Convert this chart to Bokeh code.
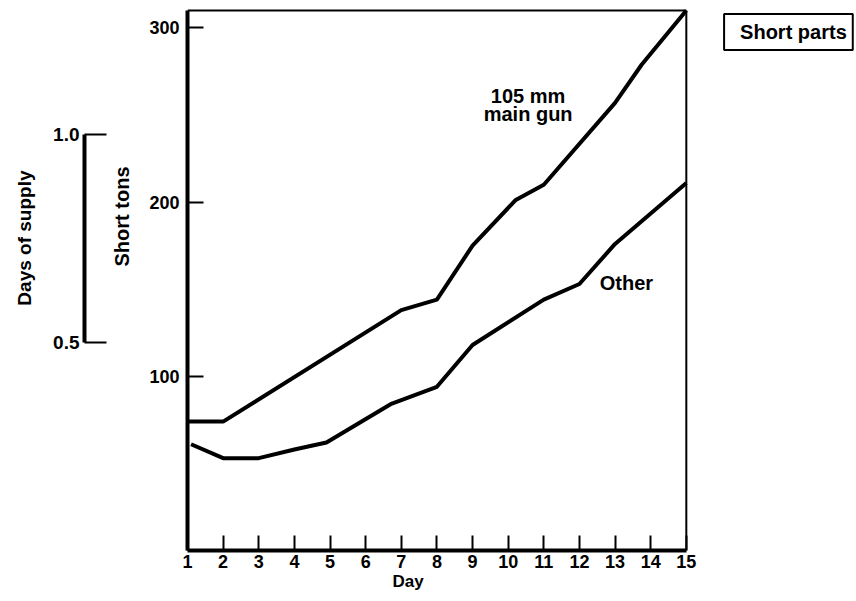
from bokeh.plotting import figure
from bokeh.models import (Range1d, LinearAxis, FixedTicker, Label, Title,
                          NumeralTickFormatter, CustomJSTickFormatter)
from bokeh.embed import file_html
from bokeh.resources import INLINE

# ---- data ----
gun_day = [1, 2, 7, 8, 9, 10.2, 11, 13, 13.75, 15]
gun_tons = [74, 74, 138, 144, 175, 201, 210, 257, 279, 310]

other_day = [1.1, 2, 3, 4, 4.9, 6.7, 8, 9, 11, 12, 13, 15]
other_tons = [61, 53, 53, 58, 62, 84, 94, 118, 144, 153, 176, 211]

day_ticks = list(range(1, 16))
ton_ticks = [100, 200, 300]
supply_ticks = [0.5, 1.0]
ton_max = 310          # top edge of the chart box

FONT = "Liberation Sans"
W, H = 854, 599
PX_DAY = 35.79          # pixels per day
PX_TON = 1.742          # pixels per short ton
PX_SUPPLY = 416.0       # pixels per day of supply

# frame spans from day 1 to the right edge of the canvas so that the note box
# in the right margin can live inside it
x_end = day_ticks[0] + (W - 184) / PX_DAY
y_end = ton_max + 4 / PX_TON

p = figure(width=W, height=H, output_backend="svg", toolbar_location=None,
           x_range=Range1d(day_ticks[0], x_end), y_range=Range1d(0, y_end),
           min_border_left=184, min_border_right=0,
           min_border_top=6, min_border_bottom=H - 550)
p.extra_y_ranges = {"days": Range1d(0, (550 - 6) / PX_SUPPLY)}

p.grid.visible = False
p.background_fill_color = "white"
p.border_fill_color = "white"
p.outline_line_color = None


def style_labels(ax, size):
    ax.major_label_text_font = FONT
    ax.major_label_text_font_style = "bold"
    ax.major_label_text_font_size = size
    ax.major_label_text_color = "black"


def title(text, size, **kw):
    return Title(text=text, text_font=FONT, text_font_style="bold",
                 text_font_size=size, text_color="black", **kw)


# bottom axis (Day)
xa = p.xaxis[0]
xa.ticker = FixedTicker(ticks=day_ticks)
xa.bounds = (day_ticks[0], day_ticks[-1])
xa.axis_line_width = 4
xa.major_tick_in = 15
xa.major_tick_out = 0
xa.major_tick_line_width = 2
xa.minor_tick_line_color = None
xa.major_label_standoff = 4
style_labels(xa, "18px")
p.add_layout(title("Day", "17px", align="left", offset=205,
                   vertical_align="top", standoff=2), "below")

# main left axis (Short tons)
ya = p.yaxis[0]
ya.ticker = FixedTicker(ticks=ton_ticks)
ya.bounds = (0, ton_max)
ya.axis_line_width = 4
ya.major_tick_in = 16
ya.major_tick_out = 0
ya.major_tick_line_width = 2
ya.minor_tick_line_color = None
ya.major_label_standoff = 8
style_labels(ya, "18px")

p.add_layout(title("Short tons", "20px", align="right", offset=160,
                   vertical_align="bottom", standoff=28), "left")

# spacer between the two left scales (one white tick at the bottom corner)
spacer = LinearAxis(ticker=FixedTicker(ticks=[0]), axis_line_color=None,
                    major_tick_line_color="white", minor_tick_out=0, minor_tick_in=0,
                    major_tick_out=10, major_tick_in=0, major_label_standoff=0,
                    formatter=CustomJSTickFormatter(code="return ''"))
p.add_layout(spacer, "left")

# Days of supply scale
da = LinearAxis(y_range_name="days", ticker=FixedTicker(ticks=supply_ticks),
                bounds=(supply_ticks[0], supply_ticks[-1]),
                formatter=NumeralTickFormatter(format="0.0"))
da.axis_line_width = 4
da.major_tick_in = 22
da.major_tick_out = 0
da.major_tick_line_width = 2
da.minor_tick_line_color = None
da.major_label_standoff = 5
style_labels(da, "19px")
p.add_layout(da, "left")

p.add_layout(title("Days of supply", "19px", align="right", offset=164,
                   vertical_align="top", standoff=27), "left")

# top and right edges of the chart box
p.segment(x0=[day_ticks[0], day_ticks[-1]], y0=[ton_max, 0],
          x1=[day_ticks[-1], day_ticks[-1]], y1=[ton_max, ton_max],
          line_color="black", line_width=2)

# series
p.line(gun_day, gun_tons, line_color="black", line_width=4)
p.line(other_day, other_tons, line_color="black", line_width=4)


def lab(x, y, text, size="20px", align="center", baseline="alphabetic", **kw):
    p.add_layout(Label(x=x, y=y, text=text, text_font=FONT, text_font_style="bold",
                       text_font_size=size, text_align=align,
                       text_baseline=baseline, text_color="black", **kw))


lab(10.56, 261, "105 mm")
lab(10.56, 250.4, "main gun")
lab(13.32, 153.3, "Other")

# "Short parts" boxed note in the right margin (anchor = box's left edge)
lab(day_ticks[0] + (723 - 184) / PX_DAY, (550 - 31.5) / PX_TON, "Short parts",
    align="left", baseline="middle",
    border_line_color="black", border_line_width=2,
    background_fill_color="white", background_fill_alpha=1.0,
    padding=dict(left=16, right=6, top=7, bottom=7))

open("out.html", "w").write(file_html(p, INLINE))
